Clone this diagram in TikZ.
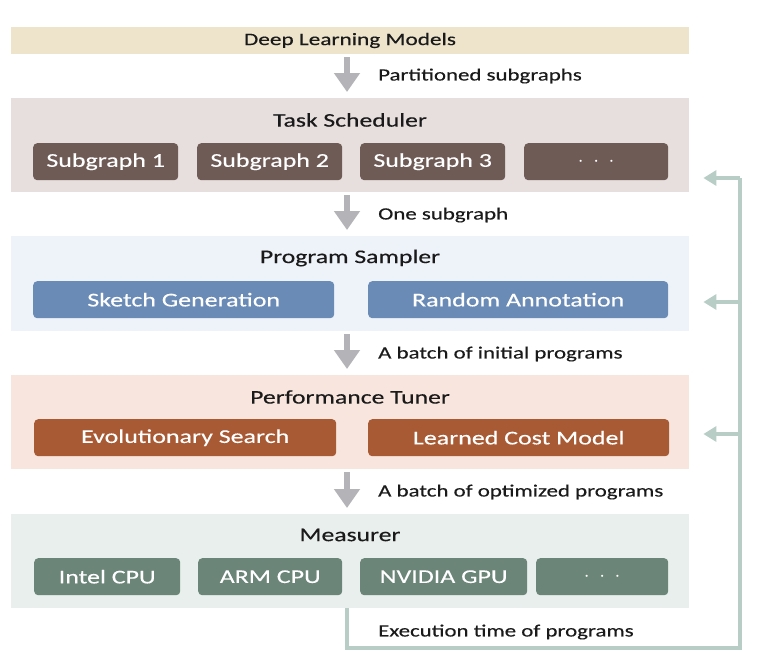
\documentclass[tikz,border=0pt]{standalone}
\usepackage{fontspec}
\setmainfont[FakeStretch=1.33,FakeBold=0.35]{Carlito}
\usetikzlibrary{arrows.meta}
\definecolor{dlbg}{HTML}{EEE4CC}
\definecolor{tsbg}{HTML}{E7DFDE}
\definecolor{tsbox}{HTML}{6F5B56}
\definecolor{psbg}{HTML}{EEF2F9}
\definecolor{psbox}{HTML}{6A8BB6}
\definecolor{ptbg}{HTML}{F8E6DE}
\definecolor{ptbox}{HTML}{A85A34}
\definecolor{msbg}{HTML}{E9EFEC}
\definecolor{msbox}{HTML}{6B8579}
\definecolor{arrgray}{HTML}{B4B4B8}
\definecolor{fbcol}{HTML}{B9CDC7}
\definecolor{txt}{HTML}{1A1A1A}
\newcommand{\mydots}{$\cdot\hspace{5pt}\cdot\hspace{5pt}\cdot$}
\tikzset{
  x=1pt, y=-1pt,
  panel/.style={anchor=north west, inner sep=0pt, minimum height=#1, minimum width=678pt},
  ptitle/.style={font=\fontsize{19.3}{21}\selectfont, text=txt, anchor=center, inner sep=0pt},
  sub/.style={rounded corners=4pt, inner sep=0pt, minimum height=37pt, text=white,
    font=\fontsize{19.5}{21}\selectfont, anchor=north west},
  flowlabel/.style={font=\fontsize{17.2}{19}\selectfont, text=txt, anchor=west, inner sep=0pt},
  blockarrow/.style={draw=arrgray, line width=6pt, shorten <=3pt, shorten >=6pt,
    -{Triangle[width=25pt,length=19pt]}},
  fbline/.style={draw=fbcol, line width=3.5pt},
  fbarrow/.style={draw=fbcol, line width=3.5pt, shorten >=14pt, -{Triangle[width=15pt,length=13pt]}}
}
\begin{document}
\begin{tikzpicture}
\useasboundingbox (0,0) rectangle (766,672);
\fill[white] (0,0) rectangle (766,672);
% panels
\node[panel=27pt, fill=dlbg] (dl) at (11,27) {};
\node[ptitle, font=\fontsize{17.5}{20}\selectfont] (dlt) at (350,40.5) {Deep Learning Models};
\node[panel=94pt, fill=tsbg] (ts) at (11,98) {};
\node[ptitle] (tst) at (350,120) {Task Scheduler};
\node[panel=95pt, fill=psbg] (ps) at (11,236) {};
\node[ptitle] (pst) at (350,258) {Program Sampler};
\node[panel=94pt, fill=ptbg] (pt) at (11,375) {};
\node[ptitle] (ptt) at (350,397) {Performance Tuner};
\node[panel=94pt, fill=msbg] (ms) at (11,514) {};
\node[ptitle] (mst) at (350,535) {Measurer};
% task scheduler boxes
\node[sub, fill=tsbox, minimum width=145pt] (s1) at (33,143) {Subgraph 1};
\node[sub, fill=tsbox, minimum width=145pt] (s2) at (197,143) {Subgraph 2};
\node[sub, fill=tsbox, minimum width=145pt] (s3) at (360,143) {Subgraph 3};
\node[sub, fill=tsbox, minimum width=144pt] (s4) at (524,143) {\mydots};
% program sampler boxes
\node[sub, fill=psbox, minimum width=301pt] (sk) at (33,281) {Sketch Generation};
\node[sub, fill=psbox, minimum width=300pt] (ra) at (368,281) {Random Annotation};
% performance tuner boxes
\node[sub, fill=ptbox, minimum width=302pt] (es) at (34,419) {Evolutionary Search};
\node[sub, fill=ptbox, minimum width=301pt] (lc) at (368,419) {Learned Cost Model};
% measurer boxes
\node[sub, fill=msbox, minimum width=146pt] (m1) at (34,558) {Intel CPU};
\node[sub, fill=msbox, minimum width=144pt] (m2) at (198,558) {ARM CPU};
\node[sub, fill=msbox, minimum width=167pt] (m3) at (360,558) {NVIDIA GPU};
\node[sub, fill=msbox, minimum width=132pt] (m4) at (536,558) {\mydots};
% flow arrows
\coordinate (ax) at (347,0);
\draw[blockarrow] (dl.south -| ax) -- (ts.north -| ax);
\draw[blockarrow] (ts.south -| ax) -- (ps.north -| ax);
\draw[blockarrow] (ps.south -| ax) -- (pt.north -| ax);
\draw[blockarrow] (pt.south -| ax) -- (ms.north -| ax);
\node[flowlabel] (l1) at (378,76) {Partitioned subgraphs};
\node[flowlabel] (l2) at (378,215) {One subgraph};
\node[flowlabel] (l3) at (378,354) {A batch of initial programs};
\node[flowlabel] (l4) at (378,492) {A batch of optimized programs};
\node[flowlabel] (l5) at (378,632) {Execution time of programs};
% feedback
\coordinate (fbl) at (347,648);
\coordinate (fbr) at (740,648);
\coordinate (f1) at (740,178);
\coordinate (f2) at (740,302);
\coordinate (f3) at (740,434);
\draw[fbline, line join=miter] (ms.south -| ax) -- (fbl) -- (fbr) -- (f1);
\draw[fbarrow] (f1) -- (ts.east |- f1);
\draw[fbarrow] (f2) -- (ps.east |- f2);
\draw[fbarrow] (f3) -- (pt.east |- f3);
\end{tikzpicture}
\end{document}
